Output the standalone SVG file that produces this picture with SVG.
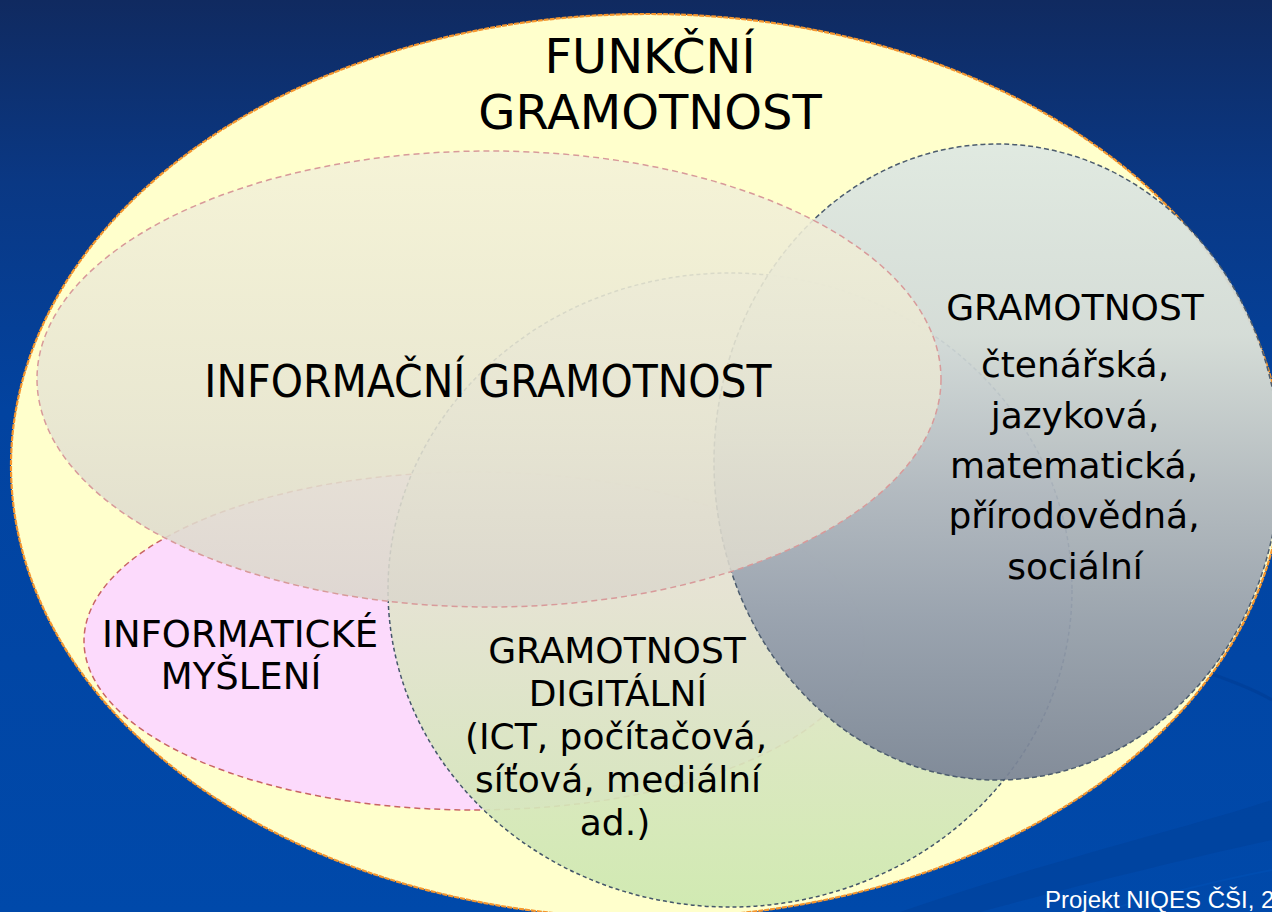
<svg xmlns="http://www.w3.org/2000/svg" width="1272" height="912" viewBox="0 0 1272 912">
  <defs>
    <linearGradient id="bg" x1="0" y1="0" x2="0" y2="1">
      <stop offset="0" stop-color="#102a60"/>
      <stop offset="0.2" stop-color="#0a3884"/>
      <stop offset="0.45" stop-color="#0243a0"/>
      <stop offset="1" stop-color="#0049aa"/>
    </linearGradient>
    <linearGradient id="gInfo" x1="0" y1="0" x2="0" y2="1">
      <stop offset="0" stop-color="#f4f2d8"/>
      <stop offset="0.6" stop-color="#e6e4d2"/>
      <stop offset="1" stop-color="#dad6cc"/>
    </linearGradient>
    <linearGradient id="gGreen" x1="0" y1="0" x2="0" y2="1">
      <stop offset="0" stop-color="#ecece0"/>
      <stop offset="0.5" stop-color="#e4e4d0"/>
      <stop offset="1" stop-color="#cde8b0"/>
    </linearGradient>
    <linearGradient id="gGray" x1="0" y1="0" x2="0" y2="1">
      <stop offset="0" stop-color="#dee8e2"/>
      <stop offset="0.3" stop-color="#d2dad8"/>
      <stop offset="0.55" stop-color="#aeb6be"/>
      <stop offset="0.75" stop-color="#949eac"/>
      <stop offset="1" stop-color="#7a8496"/>
    </linearGradient>
    <style>
      .t { font-family: "DejaVu Sans", "Liberation Sans", sans-serif; fill: #000; text-anchor: middle; }
      .outer { fill: #ffffcc; stroke: #f5962e; stroke-width: 2.2; stroke-dasharray: 5 1; }
      .info { fill: url(#gInfo); fill-opacity: 0.88; stroke: #d89a9a; stroke-width: 1.5; stroke-dasharray: 6 4; }
      .pink { fill: #fcdafc; stroke: #c86464; stroke-width: 1.5; stroke-dasharray: 6 4; }
      .green { fill: url(#gGreen); fill-opacity: 0.92; stroke: #44566a; stroke-width: 1.5; stroke-dasharray: 4 3; }
      .gray { fill: url(#gGray); fill-opacity: 0.93; stroke: #4c5c6e; stroke-width: 1.5; stroke-dasharray: 5 3; }
    </style>
  </defs>

  <rect x="0" y="0" width="1272" height="912" fill="url(#bg)"/>
  <g id="swooshes" fill="none">
    <path d="M 900 912 C 1050 860, 1180 830, 1272 800 L 1272 840 C 1180 860, 1060 890, 980 912 Z" fill="#003f98" opacity="0.5"/>
    <path d="M 1200 670 C 1230 680, 1255 690, 1272 700" stroke="#003c94" stroke-width="3" opacity="0.6"/>
    <path d="M 1100 912 C 1160 895, 1220 880, 1272 870" stroke="#0052b8" stroke-width="2" opacity="0.5"/>
  </g>

  <g id="node-funkcni">
    <ellipse class="outer" cx="647" cy="466" rx="636" ry="452"/>
    <text class="t" x="650" y="73" font-size="48">FUNKČNÍ</text>
    <text class="t" x="650" y="129" font-size="48">GRAMOTNOST</text>
  </g>

  <g id="node-informaticke">
    <ellipse class="pink" cx="474" cy="641" rx="390" ry="169"/>
    <text class="t" x="240" y="647" font-size="37">INFORMATICKÉ</text>
    <text class="t" x="241" y="689" font-size="37">MYŠLENÍ</text>
  </g>

  <g id="node-digitalni">
    <ellipse class="green" cx="730" cy="590" rx="342" ry="317"/>
    <text class="t" x="617" y="663" font-size="36">GRAMOTNOST</text>
    <text class="t" x="618" y="706" font-size="36">DIGITÁLNÍ</text>
    <text class="t" x="616" y="749" font-size="36">(ICT, počítačová,</text>
    <text class="t" x="618" y="792" font-size="36">síťová, mediální</text>
    <text class="t" x="615" y="835" font-size="36">ad.)</text>
  </g>

  <g id="node-gramotnost">
    <ellipse class="gray" cx="997" cy="462" rx="283" ry="318"/>
    <text class="t" x="1075" y="320" font-size="36">GRAMOTNOST</text>
    <text class="t" x="1075" y="377" font-size="36">čtenářská,</text>
    <text class="t" x="1075" y="428" font-size="36">jazyková,</text>
    <text class="t" x="1074" y="478" font-size="36">matematická,</text>
    <text class="t" x="1074" y="528" font-size="36">přírodovědná,</text>
    <text class="t" x="1075" y="579" font-size="36">sociální</text>
  </g>

  <g id="node-informacni">
    <ellipse class="info" cx="489" cy="379" rx="452" ry="228"/>
    <text class="t" transform="translate(488,397) scale(1,1.1)" x="0" y="0" font-size="41">INFORMAČNÍ GRAMOTNOST</text>
  </g>

  <g id="footer">
    <text x="1045" y="908" font-family="Liberation Sans, Arial, sans-serif" font-size="24" fill="#ffffff">Projekt NIQES ČŠI, 2</text>
  </g>
</svg>
